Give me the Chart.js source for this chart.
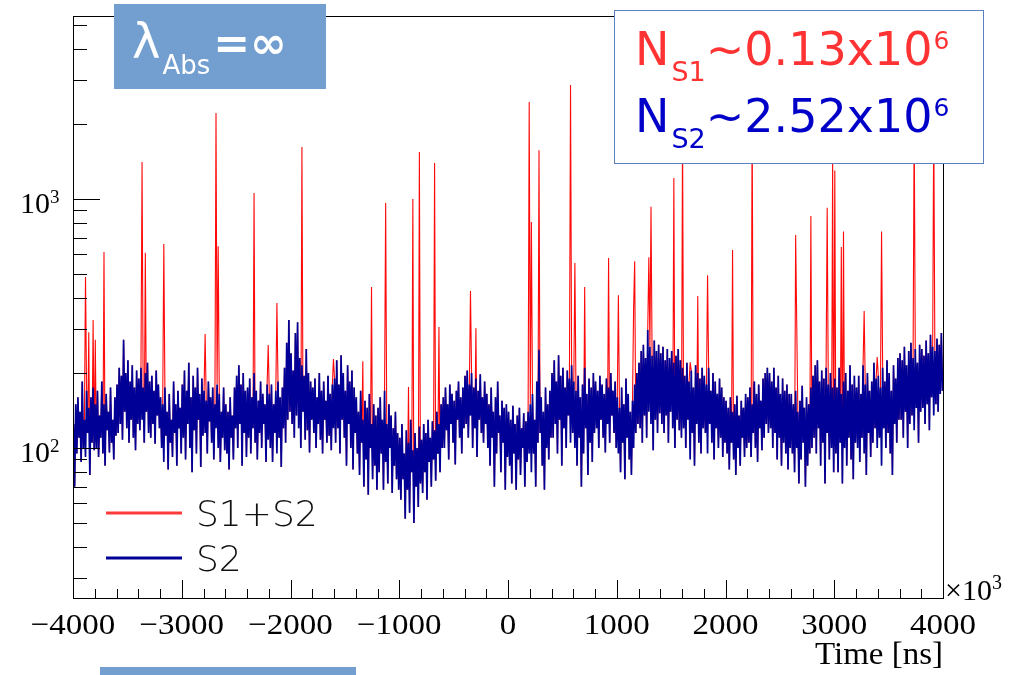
<!DOCTYPE html>
<html>
<head>
<meta charset="utf-8">
<script src="https://cdn.jsdelivr.net/npm/chart.js@4/dist/chart.umd.min.js"></script>
<style>
  html, body { margin: 0; padding: 0; background: #fff; }
  #wrap { position: relative; width: 1016px; height: 675px; }
</style>
</head>
<body>
<div id="wrap"><canvas id="timeChart" width="1016" height="675"></canvas></div>
<script>
// Histogram binning (time axis in units of 10^3 ns)
const binStart = -4000;
const binWidth = 10;

// S2 counts per bin, 20 bins per row (each row = 200 units)
const s2Counts = [
  125, 70, 150, 95, 160, 110, 140, 88, 185, 100, 130, 92, 170, 115, 145, 78, 160, 105, 175, 98,
  150, 100, 170, 92, 135, 110, 185, 95, 150, 85, 165, 118, 140, 96, 175, 105, 130, 90, 160, 112,
  180, 115, 210, 125, 195, 108, 272, 140, 200, 120, 225, 105, 185, 130, 215, 110, 175, 98, 205, 125,
  190, 118, 210, 130, 175, 105, 200, 140, 220, 115, 185, 110, 195, 125, 170, 104, 205, 135, 180, 120,
  160, 100, 150, 88, 175, 112, 140, 82, 165, 105, 130, 92, 185, 115, 150, 85, 170, 120, 145, 95,
  180, 110, 205, 90, 170, 125, 220, 100, 160, 80, 195, 118, 175, 95, 210, 130, 165, 84, 190, 112,
  170, 115, 155, 95, 185, 128, 160, 105, 175, 90, 150, 120, 180, 100, 165, 88, 140, 110, 175, 98,
  150, 95, 140, 82, 160, 110, 135, 90, 175, 120, 195, 100, 215, 125, 180, 85, 200, 115, 170, 92,
  175, 110, 190, 95, 160, 120, 200, 105, 170, 90, 155, 115, 185, 100, 165, 125, 150, 88, 180, 108,
  165, 100, 180, 88, 150, 115, 170, 95, 185, 110, 160, 84, 175, 120, 210, 105, 265, 130, 327, 140,
  240, 125, 205, 110, 290, 135, 320, 120, 230, 100, 215, 140, 195, 108, 250, 118, 200, 96, 185, 130,
  175, 115, 190, 100, 160, 125, 200, 108, 170, 95, 185, 130, 155, 105, 195, 112, 165, 98, 180, 120,
  190, 105, 225, 120, 180, 95, 236, 130, 200, 110, 170, 85, 215, 125, 185, 100, 205, 82, 175, 115,
  160, 95, 140, 78, 170, 105, 130, 70, 155, 90, 145, 65, 165, 100, 125, 75, 150, 85, 135, 68,
  145, 80, 160, 95, 130, 68, 170, 88, 125, 72, 150, 100, 135, 66, 120, 85, 140, 75, 115, 68,
  110, 62, 125, 75, 95, 52, 118, 68, 105, 55, 130, 80, 98, 50, 115, 70, 100, 58, 122, 72,
  108, 66, 125, 80, 115, 62, 130, 88, 110, 70, 128, 90, 118, 74, 140, 95, 125, 80, 150, 100,
  160, 100, 175, 118, 150, 90, 180, 125, 165, 105, 155, 86, 170, 130, 185, 110, 160, 95, 175, 120,
  195, 125, 205, 110, 180, 135, 200, 100, 175, 120, 190, 92, 170, 130, 198, 115, 160, 105, 185, 125,
  165, 100, 150, 85, 175, 110, 140, 70, 160, 95, 185, 115, 135, 80, 155, 105, 145, 68, 150, 92,
  140, 85, 130, 72, 148, 95, 125, 68, 135, 90, 145, 78, 120, 100, 138, 70, 128, 88, 140, 95,
  150, 80, 165, 95, 130, 70, 185, 105, 248, 115, 160, 85, 140, 68, 175, 100, 150, 90, 170, 110,
  200, 110, 225, 125, 185, 95, 236, 130, 195, 85, 210, 120, 175, 100, 205, 135, 190, 105, 215, 115,
  185, 100, 170, 85, 195, 110, 160, 70, 180, 95, 210, 120, 165, 78, 190, 105, 175, 88, 200, 115,
  185, 120, 170, 100, 195, 130, 180, 110, 165, 96, 190, 125, 175, 105, 200, 135, 170, 115, 185, 100,
  160, 95, 145, 80, 175, 105, 150, 75, 190, 110, 165, 90, 140, 78, 155, 100, 180, 115, 200, 125,
  220, 120, 245, 105, 260, 135, 230, 110, 298, 140, 255, 125, 235, 98, 270, 130, 245, 115, 260, 138,
  240, 125, 255, 115, 225, 135, 250, 105, 230, 140, 245, 120, 220, 100, 235, 130, 250, 118, 225, 110,
  210, 120, 195, 100, 220, 130, 185, 90, 205, 115, 175, 85, 215, 125, 200, 105, 190, 95, 210, 120,
  195, 115, 180, 95, 210, 125, 170, 105, 200, 90, 185, 120, 165, 100, 190, 110, 175, 92, 160, 105,
  155, 95, 145, 82, 160, 105, 140, 90, 150, 78, 162, 100, 135, 85, 155, 110, 145, 92, 165, 100,
  160, 105, 175, 92, 150, 115, 185, 100, 165, 88, 180, 120, 155, 98, 190, 110, 200, 125, 210, 115,
  200, 120, 185, 100, 210, 115, 175, 90, 195, 110, 165, 85, 190, 105, 170, 95, 180, 82, 165, 100,
  165, 95, 150, 80, 170, 100, 140, 72, 155, 90, 178, 105, 145, 70, 160, 85, 150, 95, 175, 100,
  195, 110, 215, 95, 225, 120, 185, 85, 205, 105, 190, 72, 210, 115, 180, 90, 200, 100, 175, 80,
  190, 95, 175, 80, 210, 105, 165, 72, 185, 100, 200, 85, 170, 110, 215, 90, 180, 75, 195, 105,
  175, 100, 195, 88, 165, 110, 215, 95, 180, 78, 200, 115, 170, 92, 185, 105, 220, 120, 190, 100,
  195, 110, 175, 85, 210, 120, 185, 100, 225, 115, 200, 95, 170, 78, 215, 125, 190, 105, 230, 130,
  240, 130, 225, 110, 255, 140, 215, 100, 245, 125, 265, 135, 230, 118, 250, 145, 220, 105, 260, 140,
  250, 145, 235, 125, 270, 150, 240, 118, 285, 160, 255, 135, 245, 150, 275, 140, 260, 165, 290, 170
];

// S1 peaks on top of S2: bin time and S1+S2 count
const spikeTimes = [
  -3890, -3853, -3816, -3798, -3715, -3366, -3338, -3163, -2786, -2685, -2667, -2336,
  -2207, -2124, -1894, -1609, -1333, -1260, -1122, -920, -874, -818, -671, -634,
  -349, -294, 193, 211, 285, 570, 616, 708, 929, 1011, 1159, 1168,
  1297, 1315, 1526, 1600, 1674, 1747, 1839, 2060, 2244, 2648, 2657, 2786,
  2933, 2989, 3007, 3062, 3080, 3274, 3393, 3430, 3733, 3917
];
const spikeCounts = [
  486, 292, 327, 272, 612, 1408, 608, 660, 287, 2215, 646, 1057,
  259, 382, 1618, 228, 223, 443, 963, 176, 1000, 1545, 1394, 306,
  427, 303, 2453, 808, 1570, 2870, 553, 443, 579, 411, 365, 562,
  584, 930, 1214, 1893, 221, 408, 494, 624, 2277, 717, 318, 855,
  922, 1435, 1300, 641, 740, 355, 232, 740, 2076, 2150
];

const xMajorTicks = [-4000, -3000, -2000, -1000, 0, 1000, 2000, 3000, 4000];
const xTickLabels = ['\u22124000', '\u22123000', '\u22122000', '\u22121000', '0', '1000', '2000', '3000', '4000'];
const yMajorTicks = [100, 1000];
const yTickExponents = ['2', '3'];

const colors = {
  s2: '#000096',
  s1s2: '#ff0a0a',
  legendRed: '#ff3b3b',
  boxBlue: '#729fcf',
  nS1: '#ff3333',
  nS2: '#0000c8',
  boxEdge: '#5a80c0'
};

function binCenters() {
  return s2Counts.map((_, i) => binStart + binWidth * (i + 0.5));
}

function s2Points() {
  const xs = binCenters();
  return s2Counts.map((c, i) => ({ x: xs[i], y: c }));
}

function s1s2Points() {
  const xs = binCenters();
  const total = s2Counts.slice();
  spikeTimes.forEach((t, k) => {
    const bin = Math.floor((t - binStart) / binWidth);
    total[bin] = Math.max(total[bin], spikeCounts[k]);
  });
  return total.map((c, i) => ({ x: xs[i], y: c }));
}

// text with a raised or lowered smaller part, e.g. 10^3 or N_S1
function drawScripted(ctx, parts, x, y) {
  let cx = x;
  parts.forEach(p => {
    ctx.font = p.font;
    ctx.fillStyle = p.color;
    ctx.fillText(p.text, cx, y + (p.dy || 0));
    cx += ctx.measureText(p.text).width + (p.gap || 0);
  });
}

// serif axis label, slightly widened like the ROOT output
function wideText(ctx, text, x, y, sx) {
  ctx.save();
  ctx.translate(x, y);
  ctx.scale(sx, 1);
  ctx.fillText(text, 0, 0);
  ctx.restore();
}

const whiteBg = {
  id: 'whiteBg',
  beforeDraw(chart) {
    const ctx = chart.ctx;
    ctx.save();
    ctx.fillStyle = '#fff';
    ctx.fillRect(0, 0, chart.width, chart.height);
    ctx.restore();
  }
};

// ROOT-style frame: inward ticks, serif labels
const rootFrame = {
  id: 'rootFrame',
  afterDatasetsDraw(chart) {
    const { ctx, chartArea: a, scales: { x, y } } = chart;
    ctx.save();
    ctx.strokeStyle = '#000';
    ctx.lineWidth = 1;
    ctx.strokeRect(a.left + 0.5, a.top + 0.5, a.right - a.left, a.bottom - a.top);

    ctx.beginPath();
    for (let t = -4000; t <= 4000; t += 200) {
      const px = Math.round(x.getPixelForValue(t)) + 0.5;
      const len = t % 1000 === 0 ? 18 : 9;
      ctx.moveTo(px, a.bottom);
      ctx.lineTo(px, a.bottom - len);
    }
    [10, 100, 1000].forEach(dec => {
      for (let m = 1; m <= 9; m++) {
        const v = m * dec;
        if (v < y.min || v > y.max) continue;
        const py = Math.round(y.getPixelForValue(v)) + 0.5;
        ctx.moveTo(a.left, py);
        ctx.lineTo(a.left + (m === 1 ? 27 : 14), py);
      }
    });
    ctx.stroke();

    ctx.fillStyle = '#000';
    ctx.textBaseline = 'alphabetic';
    ctx.font = '30px "Liberation Serif"';
    ctx.textAlign = 'center';
    xMajorTicks.forEach((t, i) => {
      wideText(ctx, xTickLabels[i], x.getPixelForValue(t), a.bottom + 36, 1.1);
    });

    ctx.textAlign = 'left';
    yMajorTicks.forEach((v, i) => {
      const py = y.getPixelForValue(v);
      ctx.font = '30px "Liberation Serif"';
      const w = ctx.measureText('10').width;
      drawScripted(ctx, [
        { text: '10', font: '30px "Liberation Serif"', color: '#000' },
        { text: yTickExponents[i], font: '19px "Liberation Serif"', color: '#000', dy: -10 }
      ], 50 - w, py + 14);
    });

    drawScripted(ctx, [
      { text: '\u00d710', font: '30px "Liberation Serif"', color: '#000' },
      { text: '3', font: '20px "Liberation Serif"', color: '#000', dy: -11 }
    ], a.right + 2, a.bottom + 2);

    ctx.textAlign = 'right';
    ctx.font = '32px "Liberation Serif"';
    wideText(ctx, 'Time [ns]', a.right, a.bottom + 66, 1.03);
    ctx.restore();
  },
  afterDraw(chart) {
    const ctx = chart.ctx;
    ctx.save();
    ctx.textAlign = 'left';
    ctx.textBaseline = 'alphabetic';

    // absorption-length tag
    ctx.fillStyle = colors.boxBlue;
    ctx.fillRect(114, 4, 212, 85);
    drawScripted(ctx, [
      { text: '\u03bb', font: '48px "DejaVu Sans"', color: '#fff', gap: 2 },
      { text: 'Abs', font: '26px "DejaVu Sans"', color: '#fff', dy: 16, gap: 3 },
      { text: '=\u221e', font: 'bold 44px "DejaVu Sans"', color: '#fff' }
    ], 132, 58);

    // signal counts box
    ctx.fillStyle = '#fff';
    ctx.fillRect(614, 10, 369, 153);
    ctx.strokeStyle = colors.boxEdge;
    ctx.lineWidth = 1;
    ctx.strokeRect(614.5, 10.5, 369, 153);
    drawScripted(ctx, [
      { text: 'N', font: '46px "DejaVu Sans"', color: colors.nS1, gap: 2 },
      { text: 'S1', font: '27px "DejaVu Sans"', color: colors.nS1, dy: 16 },
      { text: '~0.13x10', font: '46px "DejaVu Sans"', color: colors.nS1, gap: 1 },
      { text: '6', font: '25px "DejaVu Sans"', color: colors.nS1, dy: -16 }
    ], 635, 65);
    drawScripted(ctx, [
      { text: 'N', font: '46px "DejaVu Sans"', color: colors.nS2, gap: 2 },
      { text: 'S2', font: '27px "DejaVu Sans"', color: colors.nS2, dy: 16 },
      { text: '~2.52x10', font: '46px "DejaVu Sans"', color: colors.nS2, gap: 1 },
      { text: '6', font: '25px "DejaVu Sans"', color: colors.nS2, dy: -16 }
    ], 635, 132);

    // legend
    ctx.lineWidth = 3;
    ctx.strokeStyle = colors.legendRed;
    ctx.beginPath(); ctx.moveTo(106, 513); ctx.lineTo(182, 513); ctx.stroke();
    ctx.strokeStyle = colors.s2;
    ctx.beginPath(); ctx.moveTo(106, 558); ctx.lineTo(182, 558); ctx.stroke();
    ctx.fillStyle = '#111';
    ctx.font = '200 36px "DejaVu Sans"';
    ctx.fillText('S1+S2', 196, 526);
    ctx.fillText('S2', 196, 571);

    ctx.fillStyle = colors.boxBlue;
    ctx.fillRect(100, 667, 256, 8);
    ctx.restore();
  }
};

const ctx = document.getElementById('timeChart');
new Chart(ctx, {
  type: 'line',
  data: {
    datasets: [
      {
        label: 'S2',
        data: s2Points(),
        borderColor: colors.s2,
        borderWidth: 1.7,
        borderJoinStyle: 'bevel',
        tension: 0,
        pointRadius: 0,
        fill: false,
        order: 0
      },
      {
        label: 'S1+S2',
        data: s1s2Points(),
        borderColor: colors.s1s2,
        borderWidth: 1.1,
        tension: 0,
        pointRadius: 0,
        fill: false,
        order: 1
      }
    ]
  },
  options: {
    responsive: false,
    animation: false,
    layout: { padding: { left: 73, right: 73, top: 16, bottom: 77 } },
    plugins: { legend: { display: false }, tooltip: { enabled: false } },
    scales: {
      x: { type: 'linear', min: -4000, max: 4000, display: false },
      y: { type: 'logarithmic', min: 25, max: 5430, display: false }
    }
  },
  plugins: [whiteBg, rootFrame]
});
</script>
</body>
</html>
